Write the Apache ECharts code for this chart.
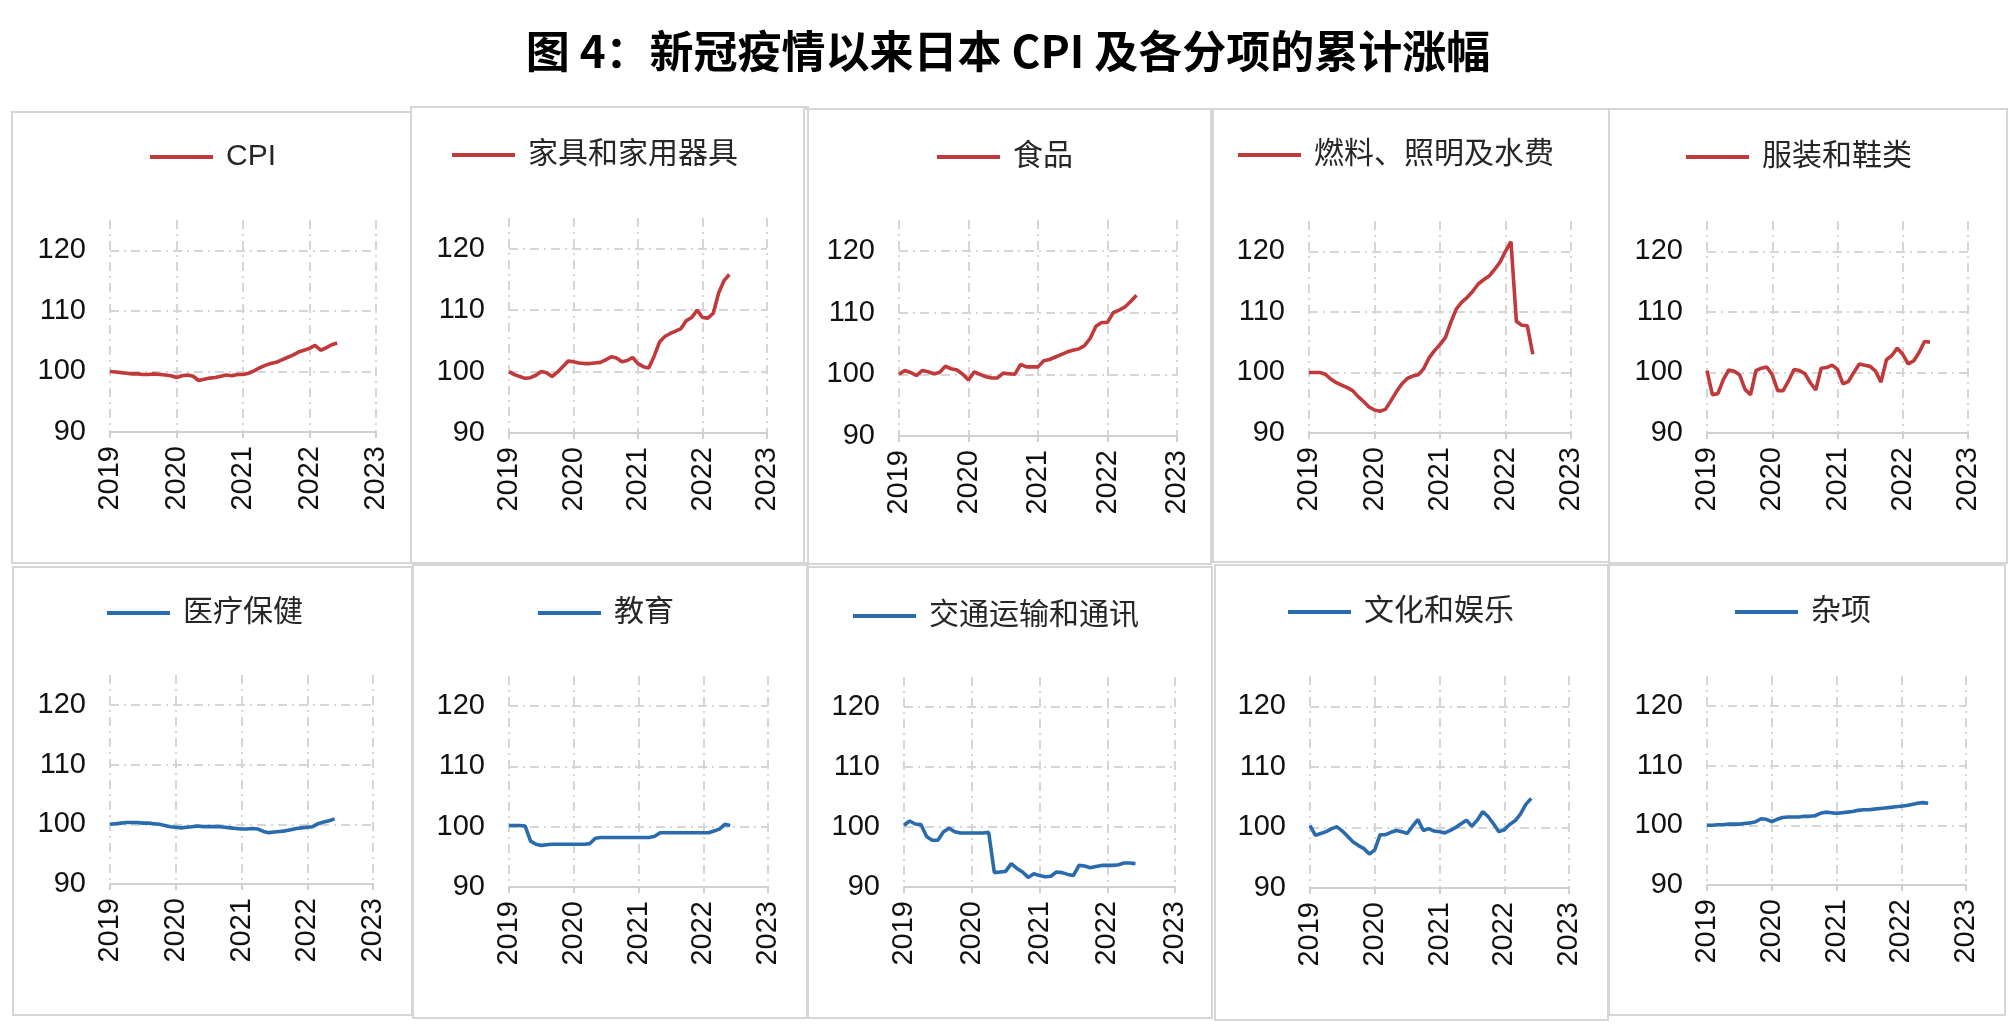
<!DOCTYPE html>
<html>
<head>
<meta charset="utf-8">
<script src="https://cdn.jsdelivr.net/npm/echarts@6/dist/echarts.min.js"></script>
<style>
html,body{margin:0;padding:0;background:#fff;}
#c{width:2016px;height:1034px;}
</style>
</head>
<body>
<div id="c"></div>
<script>
// ---- data ----
const titleText = '图 4：新冠疫情以来日本 CPI 及各分项的累计涨幅';
const seriesNames = ['CPI','家具和家用器具','食品','燃料、照明及水费','服装和鞋类','医疗保健','教育','交通运输和通讯','文化和娱乐','杂项'];
const xTicks = [2019, 2020, 2021, 2022, 2023];
const yTicks = [90, 100, 110, 120];
// monthly 2019-01 .. 2022-06
const months = [];
for (let y = 2019; y <= 2022; y++) {
  for (let m = 1; m <= 12; m++) {
    if (y === 2022 && m > 6) break;
    months.push(y + '-' + (m < 10 ? '0' + m : m));
  }
}
const cpi = [100.0,99.9,99.8,99.7,99.6,99.6,99.5,99.5,99.6,99.5,99.4,99.3,
  99.0,99.3,99.4,99.2,98.5,98.7,98.9,99.0,99.2,99.4,99.3,99.5,
  99.5,99.7,100.1,100.6,101.0,101.3,101.5,101.9,102.3,102.7,103.2,103.5,
  103.8,104.3,103.5,103.9,104.4,104.7];
const furniture = [100.0,99.5,99.2,98.9,99.0,99.4,100.0,99.8,99.2,99.9,100.8,101.7,
  101.6,101.4,101.3,101.3,101.4,101.5,101.9,102.4,102.2,101.6,101.8,102.3,
  101.3,100.8,100.6,102.5,104.8,105.7,106.2,106.6,107.0,108.3,108.8,110.0,
  108.8,108.7,109.5,112.8,114.8,115.8];
const food = [100.0,100.6,100.3,99.8,100.6,100.4,100.1,100.3,101.3,100.9,100.7,100.0,
  99.1,100.4,100.0,99.6,99.4,99.4,100.2,100.1,100.0,101.6,101.2,101.2,
  101.2,102.2,102.4,102.8,103.2,103.6,103.9,104.1,104.6,105.8,107.8,108.4,
  108.4,110.0,110.4,110.9,111.8,112.8];
const fuel = [100.0,100.0,100.0,99.7,98.9,98.3,97.9,97.5,97.0,96.0,95.2,94.3,
  93.8,93.6,93.9,95.3,96.8,98.1,99.0,99.4,99.6,100.6,102.4,103.6,
  104.6,105.8,108.3,110.5,111.6,112.4,113.4,114.6,115.3,115.9,117.0,118.2,
  120.0,121.6,108.4,107.8,107.7,103.0];
const clothing = [100.3,96.3,96.5,98.8,100.4,100.2,99.6,97.2,96.3,100.3,100.7,100.9,
  99.6,97.0,97.0,98.6,100.5,100.3,99.8,98.3,97.1,100.7,100.8,101.2,
  100.5,98.1,98.5,100.0,101.4,101.2,101.0,100.2,98.4,102.1,102.8,104.0,
  103.0,101.4,101.9,103.3,105.1,105.0];
const medical = [100.0,100.1,100.2,100.3,100.3,100.3,100.2,100.2,100.1,100.0,99.8,99.6,
  99.5,99.4,99.5,99.6,99.7,99.6,99.6,99.6,99.6,99.5,99.4,99.3,
  99.2,99.2,99.3,99.2,98.8,98.6,98.7,98.8,98.9,99.1,99.3,99.4,
  99.5,99.6,100.1,100.4,100.6,100.9];
const education = [100.2,100.2,100.2,100.1,97.6,97.1,96.9,97.0,97.1,97.1,97.1,97.1,
  97.1,97.1,97.1,97.2,98.1,98.2,98.2,98.2,98.2,98.2,98.2,98.2,
  98.2,98.2,98.2,98.4,99.0,99.0,99.0,99.0,99.0,99.0,99.0,99.0,
  99.0,99.0,99.3,99.6,100.4,100.2];
const transport = [100.3,101.0,100.5,100.4,98.4,97.8,97.8,99.2,99.8,99.2,99.0,99.0,
  99.0,99.0,99.0,99.1,92.4,92.5,92.6,93.9,93.1,92.5,91.6,92.2,
  91.9,91.7,91.8,92.5,92.4,92.1,91.9,93.6,93.5,93.2,93.4,93.6,
  93.6,93.6,93.7,94.0,94.0,93.9];
const culture = [100.3,98.7,99.0,99.3,99.8,100.1,99.4,98.5,97.6,97.0,96.5,95.6,
  96.3,98.8,98.8,99.2,99.5,99.3,99.0,100.2,101.3,99.5,99.8,99.4,
  99.3,99.1,99.5,100.0,100.6,101.2,100.2,101.2,102.6,101.8,100.6,99.3,
  99.6,100.5,101.1,102.2,103.8,104.8];
const misc = [100.0,100.0,100.1,100.1,100.2,100.2,100.2,100.3,100.4,100.6,101.1,101.0,
  100.6,101.0,101.3,101.4,101.4,101.4,101.5,101.5,101.6,102.0,102.2,102.1,
  102.0,102.1,102.2,102.3,102.5,102.6,102.6,102.7,102.8,102.9,103.0,103.1,
  103.2,103.3,103.5,103.7,103.8,103.7];
const allSeries = [cpi, furniture, food, fuel, clothing, medical, education, transport, culture, misc];

// ---- layout (positions / styles) ----
const RED = '#C0393B', BLUE = '#2A6BAE';
const panels = [
  {box:[12,112,399,451],  grid:[110,220,266,212], leg:[150,142]},
  {box:[411,107,397,456], grid:[509,218,258,215], leg:[452,140]},
  {box:[804,109,407,455], grid:[899,220,278,216], leg:[937,142]},
  {box:[1213,109,396,453],grid:[1309,221,262,212],leg:[1238,140]},
  {box:[1609,109,398,454],grid:[1707,221,261,212],leg:[1686,142]},
  {box:[13,567,399,448],  grid:[110,675,263,209], leg:[107,598]},
  {box:[413,565,395,453], grid:[509,676,259,211], leg:[538,598]},
  {box:[807,567,405,451], grid:[904,677,271,210], leg:[853,601]},
  {box:[1215,565,393,455],grid:[1310,676,259,212],leg:[1288,597]},
  {box:[1609,565,396,450],grid:[1707,676,259,209],leg:[1735,597]}
];

function monthToX(s) {
  const p = s.split('-');
  return Number(p[0]) + (Number(p[1]) - 1) / 12;
}

const gridDash = [9, 5, 2, 5];
const grids = [], xAxes = [], yAxes = [], series = [], legends = [], graphics = [];
panels.forEach((p, i) => {
  const color = i < 5 ? RED : BLUE;
  graphics.push({type:'rect', shape:{x:p.box[0], y:p.box[1], width:p.box[2], height:p.box[3]},
    style:{fill:'none', stroke:'#d6d6d6', lineWidth:2}, z:-1});
  grids.push({left:p.grid[0], top:p.grid[1], width:p.grid[2], height:p.grid[3], containLabel:false});
  xAxes.push({type:'value', gridIndex:i, min:xTicks[0], max:xTicks[xTicks.length-1], interval:1,
    axisLine:{show:true, lineStyle:{color:'#d0d0d0', width:2}},
    axisTick:{show:true, length:6, lineStyle:{color:'#d0d0d0', width:2}},
    axisLabel:{rotate:90, fontSize:29, color:'#111', fontFamily:'Liberation Sans, Arial, sans-serif', margin:14,
      formatter:v => xTicks.indexOf(v) >= 0 ? String(v) : ''},
    splitLine:{show:true, lineStyle:{color:'#d6d6d6', width:2, type:gridDash}}
  });
  yAxes.push({type:'value', gridIndex:i, min:yTicks[0], max:125, interval:10,
    axisLine:{show:false}, axisTick:{show:false},
    axisLabel:{fontSize:29, color:'#111', fontFamily:'Liberation Sans, Arial, sans-serif', margin:24,
      showMaxLabel:false, formatter:v => yTicks.indexOf(v) >= 0 ? String(v) : ''},
    splitLine:{show:true, showMinLine:false, showMaxLine:false, lineStyle:{color:'#d6d6d6', width:2, type:gridDash}}
  });
  series.push({type:'line', name:seriesNames[i], xAxisIndex:i, yAxisIndex:i,
    data: months.map((mo, k) => [monthToX(mo), allSeries[i][k]]),
    symbol:'none', showSymbol:false, lineStyle:{color:color, width:3.6}, itemStyle:{color:color},
    animation:false});
  legends.push({data:[seriesNames[i]], left:p.leg[0], top:p.leg[1], padding:0,
    itemWidth:63, itemHeight:12, icon:'path://M0,0L63,0L63,4L0,4Z',
    textStyle:{fontSize:30, color:'#262626', fontFamily:'Liberation Sans, Noto Sans CJK SC, sans-serif', padding:[0,0,0,8]}});
});

const chart = echarts.init(document.getElementById('c'), null, {renderer:'canvas'});
chart.setOption({
  backgroundColor:'#fff',
  animation:false,
  title:{text:titleText, left:'center', top:24,
    textStyle:{fontSize:44, fontWeight:'bold', color:'#000', fontFamily:'Noto Sans CJK SC, sans-serif'}},
  grid:grids, xAxis:xAxes, yAxis:yAxes, series:series, legend:legends,
  graphic:graphics
});
</script>
</body>
</html>
